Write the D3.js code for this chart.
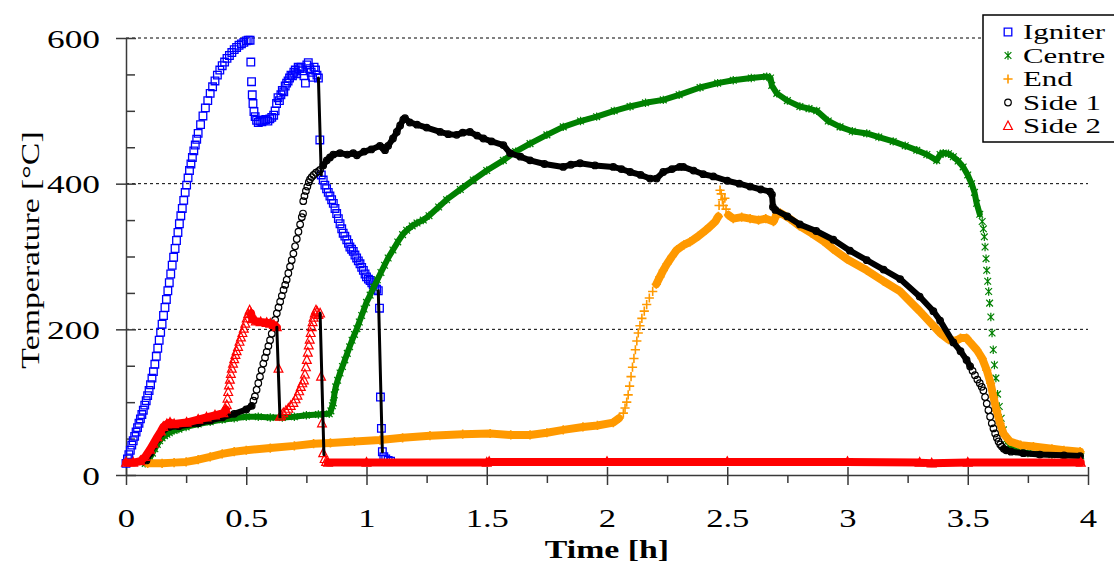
<!DOCTYPE html>
<html><head><meta charset="utf-8">
<script src="https://cdn.jsdelivr.net/npm/d3@7"></script>
<style>body{margin:0;background:#fff} svg{display:block}</style>
</head><body><svg id="c" width="1114" height="565"></svg>
<script>
// ---------------- DATA (time [h], temperature [°C]) ----------------
const seriesNames = ["Igniter", "Centre", "End", "Side 1", "Side 2"];
const xTicks = [0, 0.5, 1, 1.5, 2, 2.5, 3, 3.5, 4];
const xTickLabels = ["0", "0.5", "1", "1.5", "2", "2.5", "3", "3.5", "4"];
const xMinorTicks = [0.25, 0.75, 1.25, 1.75, 2.25, 2.75, 3.25, 3.75];
const yTicks = [0, 200, 400, 600];
const yTickLabels = ["0", "200", "400", "600"];
const yMinorTicks = [50, 100, 150, 250, 300, 350, 450, 500, 550];
const gridValues = [200, 400, 600];
const xTitle = "Time [h]";
const yTitle = "Temperature [°C]";

const igniter = [[0,16],[0.006,22],[0.012,28],[0.018,34],[0.024,41],[0.03,47],[0.036,53],[0.042,59],[0.048,65],[0.054,71],[0.06,77],[0.066,83],[0.072,89],[0.078,96],[0.084,102],[0.09,109],[0.096,116],[0.102,124],[0.108,133],[0.114,142],[0.12,152],[0.126,163],[0.132,174],[0.138,185],[0.144,196],[0.15,207],[0.156,219],[0.162,230],[0.168,241],[0.174,253],[0.18,264],[0.186,276],[0.192,288],[0.198,299],[0.204,311],[0.21,322],[0.216,333],[0.222,345],[0.228,356],[0.234,366],[0.24,377],[0.246,388],[0.252,398],[0.258,408],[0.264,418],[0.27,427],[0.276,436],[0.282,445],[0.288,453],[0.294,461],[0.3,469],[0.31,481],[0.32,493],[0.33,504],[0.34,514],[0.35,524],[0.36,533],[0.37,541],[0.38,549],[0.39,556],[0.4,562],[0.41,567],[0.42,572],[0.43,576],[0.44,580],[0.45,584],[0.46,587],[0.47,590],[0.48,592],[0.49,594],[0.5,596],[0.508,597],[0.516,597],
[0.519,567],[0.522,540],[0.525,522],[0.528,510],[0.532,499],[0.537,492],[0.543,487],[0.55,484],[0.557,486],[0.565,485],[0.573,487],[0.581,488],[0.59,486],[0.598,489],[0.606,491],[0.614,494],[0.62,500],[0.626,510],[0.632,518],[0.638,514],[0.644,522],[0.65,528],[0.656,526],[0.662,534],[0.668,538],[0.674,541],[0.68,545],[0.686,549],[0.692,548],[0.698,553],[0.704,556],[0.71,551],[0.716,560],[0.722,558],[0.728,560],[0.734,555],[0.74,548],[0.746,538],[0.752,563],[0.758,566],[0.764,558],[0.77,553],[0.776,546],[0.782,560],[0.788,556],[0.794,549],[0.8,545],
[0.806,460],[0.812,412],[0.82,405],[0.827,398],[0.834,393],[0.841,388],[0.848,383],[0.855,378],[0.862,373],[0.869,366],[0.876,359],[0.883,352],[0.89,345],[0.897,338],[0.903,332],[0.91,328],[0.918,323],[0.925,318],[0.931,313],[0.938,310],[0.945,307],[0.952,302],[0.959,298],[0.966,294],[0.973,290],[0.98,285],[0.987,281],[0.994,276],[1.0,272],[1.008,269],[1.015,267],[1.022,264],[1.028,261],[1.035,258],[1.042,255],[1.049,253],[1.054,229],[1.058,107],[1.062,64],[1.066,32],[1.072,25],[1.08,22],[1.09,20],[1.1,19]];

const centre = [[0.08,16],[0.09,18],[0.1,24],[0.11,30],[0.12,36],[0.13,42],[0.14,47],[0.15,51],[0.16,54],[0.17,56],[0.18,58],[0.2,61],[0.22,63],[0.25,66],[0.3,70],[0.35,73],[0.4,76],[0.45,78],[0.5,80],[0.55,80],[0.6,79],[0.65,79],[0.7,80],[0.75,82],[0.8,83],[0.845,84],[0.852,88],[0.858,95],[0.862,99],[0.866,110],[0.872,121],[0.88,130],[0.89,140],[0.9,149],[0.91,158],[0.92,167],[0.93,176],[0.94,185],[0.95,193],[0.96,201],[0.97,210],[0.98,219],[0.99,228],[1.0,237],[1.015,247],[1.03,258],[1.045,268],[1.06,278],[1.075,288],[1.09,298],[1.11,309],[1.13,320],[1.15,330],[1.167,336],[1.19,342],[1.21,346],[1.236,350],[1.26,356],[1.3,368],[1.333,378],[1.39,392],[1.444,405],[1.5,418],[1.569,432],[1.62,444],[1.68,455],[1.75,467],[1.818,478],[1.89,486],[1.957,492],[2.03,500],[2.096,506],[2.16,511],[2.234,515],[2.3,522],[2.387,532],[2.46,538],[2.525,542],[2.6,545],[2.664,547],[2.68,545],[2.685,535],[2.706,524],[2.75,514],[2.802,506],[2.84,503],[2.872,500],[2.92,486],[2.969,478],[3.02,472],[3.08,469],[3.13,464],[3.19,458],[3.24,452],[3.288,446],[3.33,440],[3.371,432],[3.385,440],[3.398,442],[3.42,441],[3.44,437],[3.46,431],[3.481,423],[3.5,412],[3.516,400],[3.528,388],[3.537,373],[3.55,358],[3.56,348],[3.565,338],[3.569,327],[3.572,313],[3.576,297],[3.579,281],[3.583,266],[3.587,252],[3.591,236],[3.596,217],[3.601,195],[3.606,172],[3.611,151],[3.617,133],[3.624,111],[3.631,94],[3.639,78],[3.648,62],[3.658,48],[3.67,40],[3.68,36],[3.7,33],[3.75,30],[3.8,29],[3.85,28],[3.9,27],[3.97,26]];

const end = [[0.09,16],[0.15,16],[0.2,17],[0.25,18],[0.3,21],[0.35,25],[0.4,29],[0.45,32],[0.5,34],[0.6,37],[0.7,40],[0.78,43],[0.85,44],[0.95,46],[1.056,48],[1.15,51],[1.264,54],[1.4,56],[1.514,57],[1.6,55],[1.68,55],[1.75,58],[1.818,62],[1.9,66],[1.96,68],[2.026,72],[2.05,78],[2.068,85],[2.075,92],[2.082,100],[2.088,110],[2.094,122],[2.1,135],[2.106,148],[2.112,160],[2.118,172],[2.124,184],[2.13,195],[2.137,205],[2.145,215],[2.155,225],[2.165,234],[2.176,243],[2.19,252],[2.205,262],[2.22,272],[2.234,281],[2.25,290],[2.27,300],[2.29,309],[2.32,316],[2.345,320],[2.38,328],[2.41,336],[2.428,341],[2.45,348],[2.463,355],[2.466,370],[2.47,391],[2.475,386],[2.48,378],[2.484,370],[2.49,380],[2.495,365],[2.505,357],[2.525,352],[2.56,354],[2.595,352],[2.63,350],[2.66,352],[2.692,348],[2.706,358],[2.72,360],[2.76,352],[2.8,342],[2.85,332],[2.9,321],[2.941,310],[3.0,296],[3.08,281],[3.15,266],[3.219,252],[3.3,225],[3.385,195],[3.42,186],[3.45,184],[3.47,188],[3.495,188],[3.51,182],[3.537,172],[3.56,160],[3.579,144],[3.595,126],[3.607,107],[3.62,88],[3.634,71],[3.65,56],[3.676,46],[3.72,41],[3.773,39],[3.85,36],[3.9,34],[3.967,32]];

const side1 = [[0.085,20],[0.1,30],[0.115,40],[0.13,49],[0.145,57],[0.16,63],[0.18,66],[0.22,67],[0.3,71],[0.35,75],[0.4,79],[0.45,84],[0.5,90],[0.523,95],[0.53,102],[0.536,108],[0.543,117],[0.55,126],[0.557,135],[0.564,144],[0.571,153],[0.578,161],[0.585,169],[0.592,177],[0.599,185],[0.606,194],[0.613,203],[0.62,213],[0.627,222],[0.634,230],[0.641,238],[0.648,246],[0.655,254],[0.662,261],[0.668,268],[0.675,277],[0.682,286],[0.689,295],[0.696,304],[0.703,314],[0.71,324],[0.717,334],[0.724,344],[0.731,354],[0.736,359],[0.737,376],[0.742,383],[0.748,390],[0.754,396],[0.76,402],[0.765,406],[0.772,409],[0.78,412],[0.79,415],[0.8,417],[0.807,419],[0.82,425],[0.835,432],[0.848,436],[0.862,440],[0.89,442],[0.92,440],[0.945,442],[0.96,439],[0.99,444],[1.02,447],[1.056,452],[1.07,449],[1.077,446],[1.09,452],[1.11,462],[1.126,471],[1.14,480],[1.153,488],[1.16,490],[1.18,484],[1.21,481],[1.25,477],[1.306,471],[1.34,468],[1.375,467],[1.4,470],[1.43,471],[1.46,466],[1.486,462],[1.52,458],[1.569,453],[1.597,442],[1.64,437],[1.68,432],[1.74,427],[1.818,423],[1.85,426],[1.888,428],[1.95,425],[2.026,423],[2.06,420],[2.096,416],[2.14,412],[2.179,407],[2.206,407],[2.234,416],[2.27,420],[2.303,423],[2.317,423],[2.36,418],[2.4,413],[2.442,410],[2.5,404],[2.55,400],[2.595,396],[2.64,392],[2.678,389],[2.686,385],[2.69,368],[2.7,364],[2.75,355],[2.802,344],[2.87,335],[2.941,323],[3.01,308],[3.08,295],[3.15,282],[3.219,269],[3.3,245],[3.357,225],[3.385,212],[3.44,182],[3.47,170],[3.495,158],[3.51,149],[3.52,143],[3.53,137],[3.54,131],[3.55,126],[3.558,121],[3.565,116],[3.572,107],[3.579,98],[3.586,89],[3.593,80],[3.6,71],[3.607,64],[3.614,57],[3.621,51],[3.628,46],[3.635,42],[3.642,39],[3.65,36],[3.66,34],[3.68,32],[3.731,30],[3.8,28],[3.9,27],[3.967,26]];

const side2 = [[0,17],[0.03,17],[0.06,19],[0.08,25],[0.1,35],[0.114,43],[0.13,52],[0.145,60],[0.155,66],[0.17,70],[0.183,72],[0.2,70],[0.252,72],[0.3,76],[0.335,79],[0.37,82],[0.405,85],[0.415,90],[0.419,96],[0.422,105],[0.425,114],[0.428,123],[0.432,131],[0.436,139],[0.44,146],[0.445,153],[0.45,159],[0.455,165],[0.46,170],[0.466,176],[0.472,183],[0.478,189],[0.484,195],[0.49,201],[0.496,208],[0.502,215],[0.508,221],[0.514,226],[0.52,222],[0.525,214],[0.54,211],[0.56,210],[0.585,209],[0.6,208],[0.615,206],[0.627,203],[0.634,146],[0.64,80],[0.645,82],[0.654,85],[0.665,88],[0.675,91],[0.685,95],[0.696,99],[0.705,104],[0.713,109],[0.72,115],[0.727,121],[0.733,126],[0.74,130],[0.744,138],[0.748,148],[0.752,158],[0.756,168],[0.76,178],[0.764,186],[0.768,195],[0.772,203],[0.776,210],[0.78,216],[0.785,222],[0.79,226],[0.795,224],[0.8,220],[0.807,222],[0.811,135],[0.815,71],[0.82,30],[0.826,22],[0.832,18],[0.84,17],[1.0,17],[1.5,17],[1.51,18],[2.0,18],[2.5,18],[3.0,18],[3.3,17],[3.35,16],[3.5,17],[3.97,17]];

// time ranges in which the recorded markers are so dense they merge into a band
const igniterDense = [];
const centreDense = [[0.08,0.862],[0.866,3.55],[3.68,3.97]];
const endDense = [[0.09,2.05],[2.2,2.463],[2.5,3.97]];
const side1Dense = [[0.085,0.523],[0.81,3.51],[3.65,3.97]];
const side2Dense = [[0,0.415],[0.52,0.627],[0.84,3.97]];

// black connecting lines drawn over sudden drops: [t1, v1, t2, v2]
const dropLines = [[0.627,203,0.64,80],[0.8,545,0.812,412],[0.807,222,0.823,28],[1.049,253,1.066,32]];

// ---------------- RENDER ----------------
const svg = d3.select('#c');
const FONT = "'Liberation Serif','Times New Roman',serif";
const x = d3.scaleLinear().domain([0, 4]).range([126, 1088]);
const y = d3.scaleLinear().domain([0, 600]).range([475, 38]);

function stretch(sel, sx) {
  sel.each(function () {
    const w = this.getComputedTextLength();
    d3.select(this).attr('textLength', w * sx).attr('lengthAdjust', 'spacingAndGlyphs');
  });
}

// grid
svg.append('g').selectAll('line').data(gridValues).join('line')
  .attr('x1', x(0)).attr('x2', x(4))
  .attr('y1', d => y(d)).attr('y2', d => y(d))
  .attr('stroke', '#000').attr('stroke-width', 1).attr('stroke-dasharray', '3,3');

// axes
const AX = '#3a3a3a';
const gx = svg.append('g').attr('transform', `translate(0,${y(0)})`)
  .call(d3.axisBottom(x).tickValues(xTicks).tickFormat((d, i) => xTickLabels[i]).tickSizeInner(10).tickSizeOuter(0));
gx.select('.domain').attr('stroke', AX).attr('stroke-width', 1.5);
gx.selectAll('.tick line').attr('y1', -8).attr('stroke', AX).attr('stroke-width', 1.5);
gx.selectAll('.tick text').attr('y', 52).attr('dy', 0)
  .style('font-family', FONT).style('font-size', '26px').attr('fill', '#000');
stretch(gx.selectAll('.tick text'), 1.33);

const gxm = svg.append('g').attr('transform', `translate(0,${y(0)})`)
  .call(d3.axisBottom(x).tickValues(xMinorTicks).tickFormat('').tickSizeInner(8).tickSizeOuter(0));
gxm.select('.domain').remove();
gxm.selectAll('.tick line').attr('stroke', AX).attr('stroke-width', 1.5);

const gy = svg.append('g').attr('transform', `translate(${x(0)},0)`)
  .call(d3.axisLeft(y).tickValues(yTicks).tickFormat((d, i) => yTickLabels[i]).tickSizeInner(10).tickSizeOuter(0));
gy.select('.domain').attr('stroke', AX).attr('stroke-width', 1.5);
gy.selectAll('.tick line').attr('x1', 10).attr('stroke', AX).attr('stroke-width', 1.5);
gy.selectAll('.tick text').attr('x', -26).attr('dy', '0.35em')
  .style('font-family', FONT).style('font-size', '26px').attr('fill', '#000');
stretch(gy.selectAll('.tick text'), 1.36);

const gym = svg.append('g').attr('transform', `translate(${x(0)},0)`)
  .call(d3.axisRight(y).tickValues(yMinorTicks).tickFormat('').tickSizeInner(9).tickSizeOuter(0));
gym.select('.domain').remove();
gym.selectAll('.tick line').attr('stroke', AX).attr('stroke-width', 1.5);

// titles
const tx = svg.append('text').attr('x', 607).attr('y', 558).attr('text-anchor', 'middle')
  .style('font-family', FONT).style('font-size', '26px').style('font-weight', 'bold').text(xTitle);
stretch(tx, 1.3);
const ty = svg.append('text').attr('transform', 'translate(39,250) rotate(-90)').attr('text-anchor', 'middle')
  .style('font-family', FONT).style('font-size', '26px').text(yTitle);
stretch(ty, 1.3);

// marker shapes
const shapes = {
  square: s => `M${-s},${-s}h${2*s}v${2*s}h${-2*s}Z`,
  circle: s => `M${s},0A${s},${s} 0 1,1 ${-s},0A${s},${s} 0 1,1 ${s},0Z`,
  triangle: s => `M0,${-s*1.15}L${s},${s*0.8}L${-s},${s*0.8}Z`,
  plus: s => `M${-s},0H${s}M0,${-s}V${s}`,
  asterisk: s => `M0,${-s}V${s}M${-s*0.8},${-s*0.8}L${s*0.8},${s*0.8}M${-s*0.8},${s*0.8}L${s*0.8},${-s*0.8}`
};

const series = [
  { name: seriesNames[0], data: igniter, dense: igniterDense, color: '#0000ff', shape: 'square', size: 3.8, sw: 1.3, band: 6 },
  { name: seriesNames[1], data: centre, dense: centreDense, color: '#008000', shape: 'asterisk', size: 4.2, sw: 1.2, band: 6 },
  { name: seriesNames[2], data: end, dense: endDense, color: '#ff9900', shape: 'plus', size: 4.6, sw: 1.6, band: 8 },
  { name: seriesNames[3], data: side1, dense: side1Dense, color: '#000000', shape: 'circle', size: 3.3, sw: 1.2, band: 6 },
  { name: seriesNames[4], data: side2, dense: side2Dense, color: '#ff0000', shape: 'triangle', size: 4.4, sw: 1.2, band: 8 }
];

const plot = svg.append('g');
series.forEach(s => {
  const inDense = d => s.dense.some(r => d[0] >= r[0] && d[0] <= r[1]);
  if (s.dense.length) {
    plot.append('path').datum(s.data)
      .attr('d', d3.line().defined(inDense).x(d => x(d[0])).y(d => y(d[1])))
      .attr('fill', 'none').attr('stroke', s.color).attr('stroke-width', s.band)
      .attr('stroke-linejoin', 'round').attr('stroke-linecap', 'round');
  }
  plot.append('g').selectAll('path').data(s.data).join('path')
    .attr('transform', d => `translate(${x(d[0])},${y(d[1])})`)
    .attr('d', shapes[s.shape](s.size))
    .attr('fill', 'none').attr('stroke', s.color).attr('stroke-width', s.sw);
});

// drop lines
plot.append('g').selectAll('line').data(dropLines).join('line')
  .attr('x1', d => x(d[0])).attr('y1', d => y(d[1]))
  .attr('x2', d => x(d[2])).attr('y2', d => y(d[3]))
  .attr('stroke', '#000').attr('stroke-width', 3).attr('stroke-linecap', 'round');

// legend
const lg = svg.append('g');
lg.append('rect').attr('x', 983).attr('y', 15).attr('width', 140).attr('height', 127)
  .attr('fill', '#fff').attr('stroke', '#000').attr('stroke-width', 1.5);
const rowY = d3.scalePoint().domain(seriesNames).range([32, 126]);
series.forEach(s => {
  lg.append('path').attr('transform', `translate(1008,${rowY(s.name)})`)
    .attr('d', shapes[s.shape](s.size)).attr('fill', 'none').attr('stroke', s.color).attr('stroke-width', s.sw);
  const t = lg.append('text').attr('x', 1023).attr('y', rowY(s.name) + 7)
    .style('font-family', FONT).style('font-size', '22px').text(s.name);
  stretch(t, 1.4);
});
</script>
</body></html>
